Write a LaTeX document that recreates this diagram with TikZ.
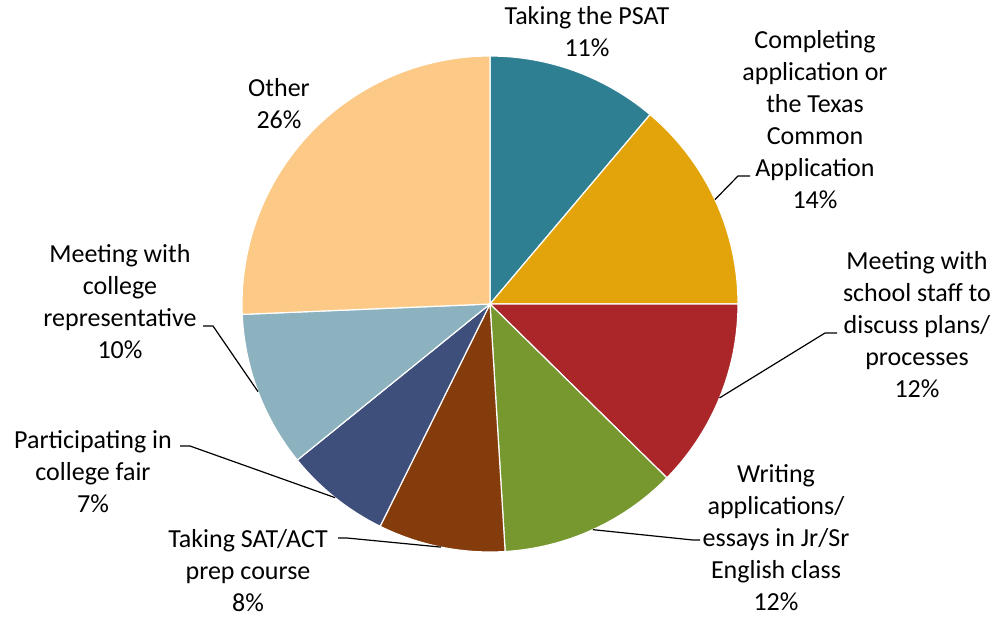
\documentclass[tikz,border=0pt]{standalone}
\usepackage{fontspec}
\setmainfont{Carlito}
\usepackage{tikz}
\usetikzlibrary{positioning, calc}

\definecolor{psatcol}{RGB}{47,127,147}
\definecolor{appcol}{RGB}{226,164,10}
\definecolor{staffcol}{RGB}{171,38,41}
\definecolor{writecol}{RGB}{119,151,47}
\definecolor{prepcol}{RGB}{132,60,12}
\definecolor{faircol}{RGB}{62,79,124}
\definecolor{repcol}{RGB}{140,178,191}
\definecolor{othercol}{RGB}{252,201,134}

\begin{document}
\begin{tikzpicture}[x=0.5pt, y=0.5pt,
		lbl/.style={align=center, inner sep=0pt, font=\fontsize{13}{16}\selectfont},
		slice/.style={draw=white, line width=0.6pt},
		leader/.style={black, line width=0.6pt}]
		\useasboundingbox (0,0) rectangle (999,618);
		\coordinate (ctr) at (490,314);

		% slices, clockwise from the top
		\draw[slice, fill=psatcol] (ctr) -- ++(90:248) arc[start angle=90, end angle=49.8, radius=248] -- cycle;
		\draw[slice, fill=appcol] (ctr) -- ++(49.8:248) arc[start angle=49.8, end angle=0, radius=248] -- cycle;
		\draw[slice, fill=staffcol] (ctr) -- ++(0:248) arc[start angle=0, end angle=-44.5, radius=248] -- cycle;
		\draw[slice, fill=writecol] (ctr) -- ++(-44.5:248) arc[start angle=-44.5, end angle=-86.5, radius=248] -- cycle;
		\draw[slice, fill=prepcol] (ctr) -- ++(-86.5:248) arc[start angle=-86.5, end angle=-116.3, radius=248] -- cycle;
		\draw[slice, fill=faircol] (ctr) -- ++(-116.3:248) arc[start angle=-116.3, end angle=-141, radius=248] -- cycle;
		\draw[slice, fill=repcol] (ctr) -- ++(-141:248) arc[start angle=-141, end angle=-177.6, radius=248] -- cycle;
		\draw[slice, fill=othercol] (ctr) -- ++(-177.6:248) arc[start angle=-177.6, end angle=-270, radius=248] -- cycle;

		\node[lbl] (psat) at (587,586) {Taking the PSAT\\11\%};
		\node[lbl] (complete) at (815,498) {Completing\\application or\\the Texas\\Common\\Application\\14\%};
		\node[lbl] (staff) at (917,293) {Meeting with\\school staff to\\discuss plans/\\processes\\12\%};
		\node[lbl] (writing) at (776,80) {Writing\\applications/\\essays in Jr/Sr\\English class\\12\%};
		\node[lbl] (prep) at (248,47) {Taking SAT/ACT\\prep course\\8\%};
		\node[lbl] (fair) at (93,146) {Participating in\\college fair\\7\%};
		\node[lbl] (rep) at (120,316) {Meeting with\\college\\representative\\10\%};
		\node[lbl] (other) at (279,514) {Other\\26\%};

		% leader ends on the rim, at the middle of each slice
		\coordinate (complete-tip) at ($(ctr)+(24.9:248)$);
		\coordinate (staff-tip) at ($(ctr)+(-22.25:248)$);
		\coordinate (writing-tip) at ($(ctr)+(-65.5:248)$);
		\coordinate (prep-tip) at ($(ctr)+(-101.4:248)$);
		\coordinate (fair-tip) at ($(ctr)+(-128.65:248)$);
		\coordinate (rep-tip) at ($(ctr)+(-159.3:248)$);

		\coordinate (complete-end) at (750,442);
		\coordinate (staff-end) at (837,285);
		\coordinate (writing-end) at (700,78);
		\coordinate (prep-end) at (338,80);
		\coordinate (fair-end) at (180,172);
		\coordinate (rep-end) at (203,292);

		\draw[leader] (complete-end) -- ++(-12,0) -- (complete-tip);
		\draw[leader] (staff-end) -- ++(-12,0) -- (staff-tip);
		\draw[leader] (writing-end) -- ++(-7,0) -- (writing-tip);
		\draw[leader] (prep-end) -- ++(9,0) -- (prep-tip);
		\draw[leader] (fair-end) -- ++(10,0) -- (fair-tip);
		\draw[leader] (rep-end) -- ++(10,0) -- (rep-tip);

	\end{tikzpicture}
\end{document}
